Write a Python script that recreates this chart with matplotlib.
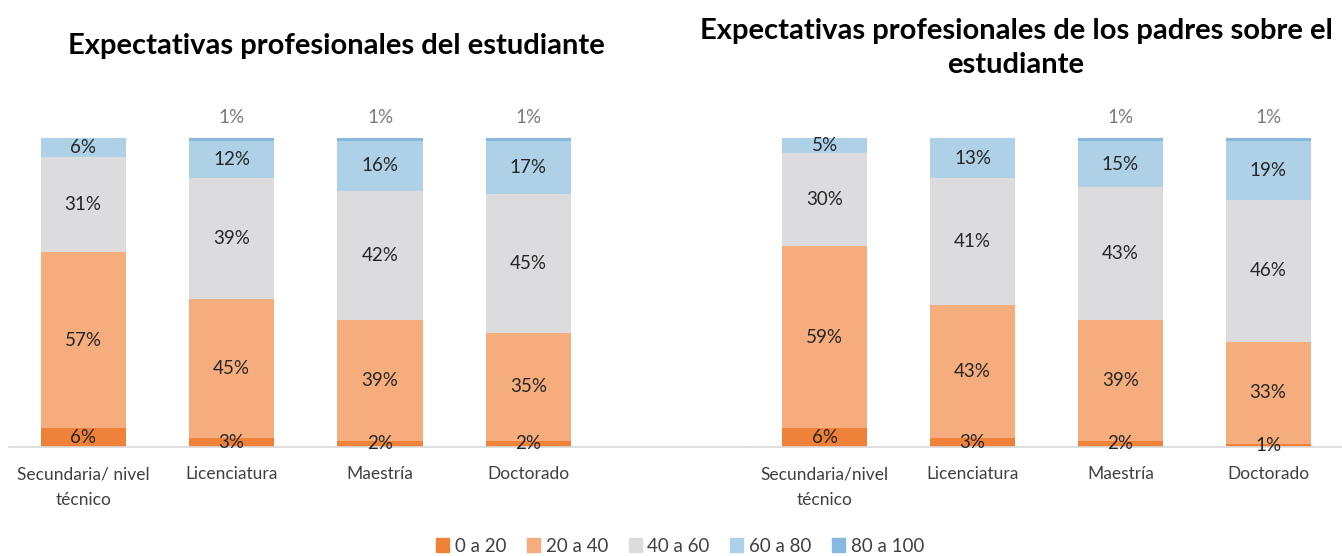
import numpy as np
import matplotlib.pyplot as plt
from matplotlib.patches import Patch

plt.rcParams['font.family'] = ['Lato', 'DejaVu Sans']

series = ['0 a 20', '20 a 40', '40 a 60', '60 a 80', '80 a 100']
colors = ['#EF8139', '#F5AD7E', '#DCDCDE', '#AED1E8', '#88B7E0']

cats_est = ['Secundaria/ nivel\ntécnico', 'Licenciatura', 'Maestría', 'Doctorado']
cats_pad = ['Secundaria/nivel\ntécnico', 'Licenciatura', 'Maestría', 'Doctorado']

# rows = series (0 a 20 ... 80 a 100), columns = categories
est_vals = [
    [6, 3, 2, 2],
    [57, 45, 39, 35],
    [31, 39, 42, 45],
    [6, 12, 16, 17],
    [0, 1, 1, 1],
]
pad_vals = [
    [6, 3, 2, 1],
    [59, 43, 39, 33],
    [30, 41, 43, 46],
    [5, 13, 15, 19],
    [0, 0, 1, 1],
]

title_est = 'Expectativas profesionales del estudiante'
title_pad = 'Expectativas profesionales de los padres sobre el\nestudiante'

W, H = 1342, 556
fig = plt.figure(figsize=(W / 100, H / 100), dpi=100)

y0, h = (H - 447) / H, 309 / H
ax1 = fig.add_axes([9 / W, y0, 742 / W, h])
ax2 = fig.add_axes([751 / W, y0, 591 / W, h])


def draw(ax, cats, vals, nslots):
    x = np.arange(len(cats))
    bottom = np.zeros(len(cats))
    for i, (name, col) in enumerate(zip(series, colors)):
        v = np.array(vals[i], dtype=float)
        bars = ax.bar(x, v, 0.575, bottom=bottom, color=col, label=name)
        for j, b in enumerate(bars):
            if v[j] <= 0:
                continue
            if i == len(series) - 1:
                ax.annotate(f'{int(v[j])}%', (x[j], bottom[j] + v[j]),
                            xytext=(0, 15), textcoords='offset points',
                            ha='center', va='center', fontsize=13.5,
                            color='#7A7A7A', annotation_clip=False)
            else:
                ax.text(x[j], bottom[j] + v[j] / 2, f'{int(v[j])}%',
                        ha='center', va='center', fontsize=13.5, color='#262626')
        bottom += v
    ax.set_xlim(-0.5, nslots - 0.5)
    ax.set_ylim(0, 100)
    ax.set_xticks(x)
    ax.set_xticklabels(cats, fontsize=12.5, color='#404040', linespacing=1.75)
    ax.tick_params(axis='x', length=0, pad=14)
    ax.set_yticks([])
    for s in ['top', 'left', 'right']:
        ax.spines[s].set_visible(False)
    ax.spines['bottom'].set_color('#D9D9D9')
    ax.spines['bottom'].set_linewidth(1.2)


draw(ax1, cats_est, est_vals, 5)
draw(ax2, cats_pad, pad_vals, 4)

fig.text(336 / W, 1 - 46 / H, title_est, ha='center', va='center',
         fontsize=21, fontweight='bold', color='black')
fig.text(1016 / W, 1 - 48 / H, title_pad, ha='center', va='center',
         fontsize=21, fontweight='bold', color='black', linespacing=1.4)

handles = [Patch(color=c, label=s) for s, c in zip(series, colors)]
fig.legend(handles=handles, loc='center', bbox_to_anchor=(680 / W, 1 - 546 / H),
           ncol=5, frameon=False, fontsize=13.5, handlelength=0.7, handleheight=0.7,
           handletextpad=0.3, columnspacing=1.1, labelcolor='#404040')

fig.savefig('out.png', dpi=100)
